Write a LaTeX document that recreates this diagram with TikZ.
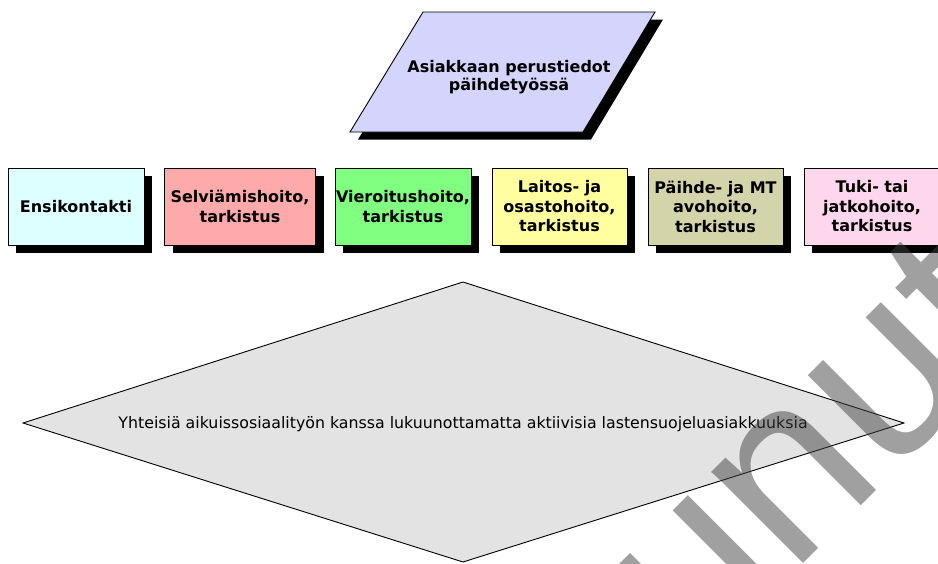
\documentclass[tikz,border=0pt]{standalone}
\usepackage{fontspec}
\setmainfont{DejaVu Sans}
\newfontfamily\leimafont{Liberation Sans}
\usetikzlibrary{shadows}

\definecolor{suunnikas}{RGB}{212,212,252}
\definecolor{ensi}{RGB}{221,255,255}
\definecolor{selvi}{RGB}{255,170,170}
\definecolor{vieroitus}{RGB}{128,255,128}
\definecolor{laitos}{RGB}{255,255,160}
\definecolor{avo}{RGB}{212,212,170}
\definecolor{tuki}{RGB}{255,215,236}
\definecolor{harmaa}{RGB}{227,227,227}
\definecolor{leima}{RGB}{65,65,65}

\begin{document}
\begin{tikzpicture}[x=1pt, y=-1pt,
    laatikko/.style={draw=black, line width=0.9pt, minimum width=136, minimum height=77,
      inner sep=0pt, align=center, font=\bfseries\fontsize{16}{19.5}\selectfont,
      drop shadow={fill=black, opacity=1, shadow xshift=8pt, shadow yshift=-7.5pt}}]
    % Rajaus
    \useasboundingbox (0,0) rectangle (938,563);
    \clip (0,0) rectangle (938,563);

    % Perustiedot (suunnikas)
    \fill[black] (431,19.5) -- (663,19.5) -- (591,139.5) -- (358,139.5) -- cycle;
    \draw[fill=suunnikas, line width=0.9pt] (423,12) -- (655,12) -- (583,132) -- (350,132) -- cycle;
    \node[align=center, font=\bfseries\fontsize{16}{18}\selectfont] (perustiedot) at (509,77) {Asiakkaan perustiedot\\päihdetyössä};

    % Hoitovaiheet
    \node[laatikko, fill=ensi] (ensikontakti) at (76,206.5) {Ensikontakti};
    \node[laatikko, fill=selvi, minimum width=151] (selviamis) at (240,206.5) {Selviämishoito,\\tarkistus};
    \node[laatikko, fill=vieroitus] (vieroitus) at (403,206.5) {Vieroitushoito,\\tarkistus};
    \node[laatikko, fill=laitos, minimum width=135] (laitos) at (559.5,206.5) {Laitos- ja\\osastohoito,\\tarkistus};
    \node[laatikko, fill=avo, minimum width=135] (avohoito) at (715.5,206.5) {Päihde- ja MT\\avohoito,\\tarkistus};
    \node[laatikko, fill=tuki] (tukihoito) at (872,206.5) {Tuki- tai\\jatkohoito,\\tarkistus};

    % Yhteinen osa (vinoneliö)
    \draw[fill=harmaa, line width=0.9pt] (463,282) -- (904,423) -- (463,562) -- (23,423) -- cycle;
    \node[font=\fontsize{15.8}{18}\selectfont] (yhteiset) at (463,424) {Yhteisiä aikuissosiaalityön kanssa lukuunottamatta aktiivisia lastensuojeluasiakkuuksia};

    % Leima
    \node[rotate=45, anchor=base, inner sep=0pt, text=leima, text opacity=0.5,
      font=\leimafont\fontsize{245}{245}\selectfont] (leima) at (548,819) {Vanhentunut};
\end{tikzpicture}
\end{document}
